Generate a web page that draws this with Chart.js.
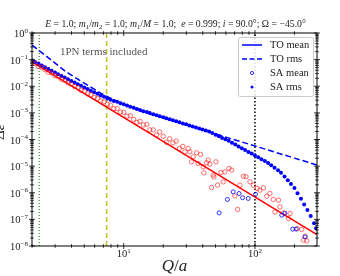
<!DOCTYPE html>
<html><head><meta charset="utf-8">
<script src="https://cdn.jsdelivr.net/npm/chart.js@4.4.0/dist/chart.umd.min.js"></script>
<style>html,body{margin:0;padding:0;background:#fff;}</style>
</head><body><canvas id="c" width="340" height="276"></canvas>
<script>
// ---- data ----
const qGrid = [2.00,2.11,2.24,2.37,2.51,2.66,2.82,2.99,3.16,3.35,3.55,3.76,3.98,4.22,4.47,4.73,5.01,5.31,5.62,5.96,6.31,6.68,7.08,7.50,7.94,8.41,8.91,9.44,
  10.0,10.6,11.2,11.9,12.6,13.3,14.1,15.0,15.8,16.8,17.8,18.8,20.0,21.1,22.4,23.7,25.1,26.6,28.2,29.9,31.6,33.5,35.5,37.6,39.8,42.2,44.7,47.3,50.1,53.1,56.2,59.6,63.1,66.8,70.8,75.0,79.4,84.1,89.1,94.4,
  100,106,112,119,126,133,141,150,158,168,178,188,200,211,224,237,251,266,282,292];
const saRmsBlue = [0.0955,0.0822,0.0708,0.0603,0.0519,0.0447,0.0380,0.0327,0.0282,0.0245,0.0211,0.0184,0.0158,0.0138,0.0120,0.0104,9.0e-3,7.9e-3,6.8e-3,6.0e-3,5.2e-3,4.5e-3,4.0e-3,3.5e-3,3.1e-3,2.8e-3,2.6e-3,2.3e-3,
  2.1e-3,1.9e-3,1.7e-3,1.55e-3,1.41e-3,1.27e-3,1.16e-3,1.07e-3,9.8e-4,8.9e-4,8.2e-4,7.5e-4,6.9e-4,6.3e-4,5.75e-4,5.25e-4,4.84e-4,4.42e-4,4.03e-4,3.72e-4,3.39e-4,3.09e-4,2.82e-4,2.60e-4,2.37e-4,2.16e-4,2.00e-4,1.74e-4,1.51e-4,1.32e-4,1.15e-4,1.02e-4,8.9e-5,7.6e-5,6.5e-5,5.5e-5,4.7e-5,4.0e-5,3.4e-5,2.95e-5,
  2.5e-5,2.14e-5,1.82e-5,1.55e-5,1.32e-5,1.07e-5,8.7e-6,7.0e-6,5.6e-6,4.1e-6,2.95e-6,2.14e-6,1.51e-6,9.5e-7,5.9e-7,3.6e-7,2.24e-7,1.35e-7,7.2e-8,4.6e-8];
// SA mean (red): dense part shares the first 47 Q values of qGrid
const saMeanRedDense = [0.0794,0.0716,0.0550,0.0519,0.0417,0.0335,0.0316,0.0254,0.0229,0.0184,0.0166,0.0133,0.0120,9.7e-3,8.9e-3,7.0e-3,6.5e-3,5.2e-3,4.8e-3,3.8e-3,3.5e-3,2.8e-3,2.6e-3,2.07e-3,1.95e-3,1.43e-3,1.45e-3,1.08e-3,1.05e-3,7.5e-4,7.8e-4,5.7e-4,4.4e-4,4.8e-4,3.5e-4,3.7e-4,2.3e-4,2.3e-4,1.48e-4,1.93e-4,1.32e-4,7.9e-5,1.07e-4,7.5e-5,8.7e-5,4.6e-5,5.5e-5];
const qRedScatter = [29.2,31.0,31.9,32.9,33.8,35.9,36.9,38.5,40.3,40.8,42.8,44.0,45.3,46.7,48.0,48.6,50.4,51.9,55.0,57.3,59.0,63.4,66.4,70.3,73.8,76.8,81.4,85.4,91.6,97.1,104,109,116,123,130,138,142,151,155,165,180,185,210,227,241,234,248];
const saMeanRedScatter = [3.45e-5,4.6e-5,3.45e-5,1.45e-5,2.24e-5,3.16e-5,1.26e-5,2.75e-5,9.4e-6,5.6e-6,1.33e-5,1.68e-5,1.19e-5,1.58e-6,4.6e-6,3.9e-6,1.45e-5,1.93e-6,5.8e-6,2.57e-6,6.1e-6,8.2e-6,7.1e-6,7.6e-7,2.35e-7,1.93e-6,4.2e-6,4.0e-6,2.57e-6,1.93e-6,1.45e-6,1.25e-6,1.53e-6,7.4e-7,9.4e-7,5.6e-7,1.91e-7,5.3e-7,2.95e-7,1.75e-7,1.08e-7,1.67e-7,4.5e-8,4.2e-8,2.33e-8,1.65e-8,1.56e-8];
const qSaMeanBlue = [53.3,61.7,68.2,75.7,80.5,88.9,101,160,169,194,206,241];
const saMeanBlue = [1.75e-7,5.6e-7,1.08e-6,9.4e-7,6.5e-7,6.1e-7,8.7e-7,1.44e-7,1.71e-7,4.3e-8,4.3e-8,2.2e-8];
const qToRms = [2,2.5,3,3.5,4,4.5,5,6,7,8,10,15,20,30,50,100,200,297];
const toRmsBlue = [0.35,0.15,0.074,0.040,0.026,0.018,0.013,7.6e-3,4.9e-3,3.5e-3,2.1e-3,1.0e-3,6.4e-4,3.5e-4,1.62e-4,5.7e-5,2.0e-5,1.1e-5];
const qToMean = [2,297];
const toMeanRed = [0.083,2.7e-8];
const qGreenLine = 2.27, qYellowLine = 7.41, qBlackLine = 100;
const yRange = [1e-8, 1];
const xRange = [2, 297];
const yTickExps = [0,-1,-2,-3,-4,-5,-6,-7,-8];
const xTickExps = [1,2];
const legendLabels = ['TO mean','TO rms','SA mean','SA rms'];
const annotationText = '1PN terms included';

const pts = (xs, ys) => xs.map((q,i)=>({x:q,y:ys[i]}));
const vline = q => [{x:q,y:yRange[0]},{x:q,y:yRange[1]}];
const BLUE = '#0000ff', RED = '#ff0000';
const SERIF = '"Liberation Serif","DejaVu Serif",serif';

function drawRuns(ctx, runs, cx, baseline, size, color){
  const f = (st,s)=> (st==='i'?'italic ':'') + s + 'px ' + SERIF;
  let total = 0; const ws = [];
  runs.forEach(([t,st])=>{const s = st==='sub'?size*0.7:size; ctx.font=f(st==='sub'?'n':st,s); const w=ctx.measureText(t).width; ws.push(w); total+=w;});
  let xx = cx - total/2;
  ctx.fillStyle = color; ctx.textAlign='left'; ctx.textBaseline='alphabetic';
  runs.forEach(([t,st],i)=>{const s = st==='sub'?size*0.7:size; ctx.font=f(st==='sub'?'n':st,s); ctx.fillText(t, xx, baseline + (st==='sub'?size*0.22:0)); xx+=ws[i];});
  return total;
}

const overlay = {
  id:'overlay',
  afterDraw(chart){
    const {ctx, chartArea:a, scales:{x,y}} = chart;
    ctx.save();
    ctx.strokeStyle='#000'; ctx.lineWidth=1;
    ctx.strokeRect(a.left, a.top, a.right-a.left, a.bottom-a.top);
    ctx.lineWidth=0.8;
    ctx.beginPath();
    for(let k=0;k<=2;k++) for(let m=1;m<=9;m++){
      const v=m*Math.pow(10,k); if(v<xRange[0]||v>xRange[1]) continue;
      const px=x.getPixelForValue(v), L=(m===1?3:1.8);
      ctx.moveTo(px,a.bottom-L); ctx.lineTo(px,a.bottom+L);
      ctx.moveTo(px,a.top-L); ctx.lineTo(px,a.top+L);
    }
    for(let k=-8;k<=0;k++) for(let m=1;m<=9;m++){
      const v=m*Math.pow(10,k); if(v>yRange[1]*1.0001) continue;
      const py=y.getPixelForValue(v), L=(m===1?3:1.8);
      ctx.moveTo(a.left-L,py); ctx.lineTo(a.left+L,py);
      ctx.moveTo(a.right-L,py); ctx.lineTo(a.right+L,py);
    }
    ctx.stroke();
    ctx.fillStyle='#222'; ctx.textBaseline='alphabetic'; ctx.textAlign='left';
    yTickExps.forEach(e=>{
      const py=y.getPixelForValue(Math.pow(10,e));
      const es = e===0?'0':'\u2212'+(-e);
      ctx.font='7px '+SERIF; const ew=ctx.measureText(es).width;
      ctx.font='10.5px '+SERIF; const bw=ctx.measureText('10').width;
      const R=a.left-4;
      ctx.fillText('10', R-ew-bw, py+4);
      ctx.font='7px '+SERIF; ctx.fillText(es, R-ew, py-0.5);
    });
    xTickExps.forEach(e=>{
      const px=x.getPixelForValue(Math.pow(10,e));
      const es=String(e);
      ctx.font='7px '+SERIF; const ew=ctx.measureText(es).width;
      ctx.font='10.5px '+SERIF; const bw=ctx.measureText('10').width;
      const L0=px-(ew+bw)/2;
      ctx.fillText('10', L0, a.bottom+11);
      ctx.font='7px '+SERIF; ctx.fillText(es, L0+bw, a.bottom+6.5);
    });
    const titleRuns=[['E','i'],[' = 1.0; ','n'],['m','i'],['1','sub'],['/','n'],['m','i'],['2','sub'],[' = 1.0; ','n'],['m','i'],['1','sub'],['/','n'],['M','i'],[' = 1.0;  ','n'],['e','i'],[' = 0.999; ','n'],['i','i'],[' = 90.0\u00b0; ','n'],['\u03a9','n'],[' = \u221245.0\u00b0','n']];
    const tmp = document.createElement('canvas').getContext('2d');
    const w10 = drawRuns(tmp, titleRuns, 0, 0, 10, '#000');
    const tsize = 10*261/w10;
    drawRuns(ctx, titleRuns, (a.left+a.right)/2+1, a.top-6, tsize, '#222');
    drawRuns(ctx, [['Q','i'],['/','n'],['a','i']], (a.left+a.right)/2, 271, 17, '#222');
    ctx.save(); ctx.translate(3.5,139); ctx.rotate(-Math.PI/2);
    ctx.font='italic 15px '+SERIF; ctx.fillStyle='#222'; ctx.textAlign='left'; ctx.textBaseline='alphabetic';
    ctx.fillText('\u0394\u03b5', 0, 0); ctx.restore();
    ctx.font='11px '+SERIF; ctx.fillStyle='#555'; ctx.textAlign='left';
    ctx.fillText(annotationText, 60, 55);
    const bx=238.5, by=37.5, bw2=75, bh=59;
    ctx.fillStyle='rgba(255,255,255,0.85)'; ctx.strokeStyle='#cccccc'; ctx.lineWidth=1;
    ctx.beginPath(); ctx.roundRect(bx,by,bw2,bh,2); ctx.fill(); ctx.stroke();
    const rows=[45,59,73,87];
    ctx.strokeStyle=BLUE; ctx.lineWidth=1.5;
    ctx.beginPath(); ctx.moveTo(242,rows[0]); ctx.lineTo(262,rows[0]); ctx.stroke();
    ctx.setLineDash([5,2.5]); ctx.beginPath(); ctx.moveTo(242,rows[1]); ctx.lineTo(262,rows[1]); ctx.stroke(); ctx.setLineDash([]);
    ctx.lineWidth=0.8; ctx.beginPath(); ctx.arc(252,rows[2],1.6,0,2*Math.PI); ctx.stroke();
    ctx.fillStyle=BLUE; ctx.beginPath(); ctx.arc(252,rows[3],1.5,0,2*Math.PI); ctx.fill();
    ctx.fillStyle='#222'; ctx.font='10.5px '+SERIF; ctx.textBaseline='middle';
    legendLabels.forEach((t,i)=>ctx.fillText(t,270,rows[i]+0.5));
    ctx.restore();
  }
};

new Chart(document.getElementById('c'), {
  type:'scatter',
  data:{datasets:[
    {label:'SA mean blue', data:pts(qSaMeanBlue,saMeanBlue), pointRadius:2, pointBorderWidth:0.8, borderColor:BLUE, backgroundColor:'rgba(0,0,0,0)', showLine:false, order:1},
    {label:'SA mean', data:[...pts(qGrid.slice(0,saMeanRedDense.length),saMeanRedDense), ...pts(qRedScatter,saMeanRedScatter)], pointRadius:2.2, pointBorderWidth:0.8, borderColor:'rgba(255,0,0,0.7)', backgroundColor:'rgba(0,0,0,0)', showLine:false, order:2},
    {label:'SA rms', data:pts(qGrid,saRmsBlue), pointRadius:2, pointBorderWidth:0, backgroundColor:BLUE, borderColor:BLUE, showLine:false, order:3},
    {label:'TO rms', data:pts(qToRms,toRmsBlue), showLine:true, pointRadius:0, borderColor:BLUE, borderWidth:1.5, borderDash:[6,3], cubicInterpolationMode:'monotone', order:4},
    {label:'TO mean', data:pts(qToMean,toMeanRed), showLine:true, pointRadius:0, borderColor:RED, borderWidth:1.5, order:5},
    {label:'black', data:vline(qBlackLine), showLine:true, pointRadius:0, borderColor:'#000', borderWidth:1.5, borderDash:[1.5,2], order:6},
    {label:'yellow', data:vline(qYellowLine), showLine:true, pointRadius:0, borderColor:'#c4c430', borderWidth:1.6, borderDash:[5,3], order:7},
    {label:'green', data:vline(qGreenLine), showLine:true, pointRadius:0, borderColor:'#008000', borderWidth:1, borderDash:[1,2], order:8}
  ]},
  options:{
    responsive:false, animation:false, devicePixelRatio:1, events:[],
    layout:{padding:{left:32,right:23,top:33,bottom:30}},
    scales:{
      x:{type:'logarithmic', min:xRange[0], max:xRange[1], display:false},
      y:{type:'logarithmic', min:yRange[0], max:yRange[1], display:false}
    },
    plugins:{legend:{display:false}, tooltip:{enabled:false}}
  },
  plugins:[overlay]
});
</script></body></html>
